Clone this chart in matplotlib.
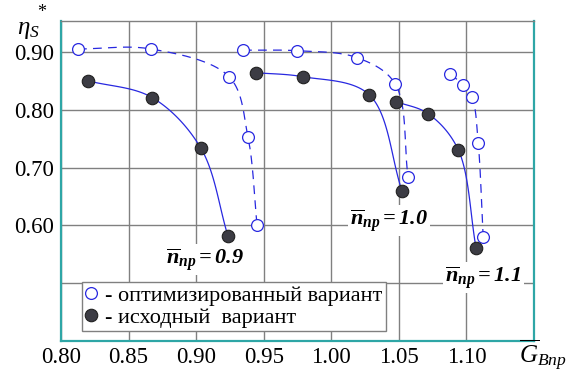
import numpy as np
import matplotlib
matplotlib.use("Agg")
import matplotlib.pyplot as plt
from matplotlib.lines import Line2D

plt.rcParams['font.family'] = ['Liberation Serif', 'DejaVu Serif']
plt.rcParams['mathtext.fontset'] = 'custom'
plt.rcParams['mathtext.rm'] = 'Liberation Serif'
plt.rcParams['mathtext.it'] = 'Liberation Serif:italic'
plt.rcParams['mathtext.bf'] = 'Liberation Serif:italic:bold'

# optimized variant (open circles), per relative speed
opt_09_x = [0.8126, 0.8666, 0.9244, 0.9384, 0.9451]
opt_09_y = [0.905, 0.905, 0.857, 0.752, 0.600]
opt_10_x = [0.9347, 0.9747, 1.0191, 1.0472, 1.0568]
opt_10_y = [0.903, 0.902, 0.890, 0.845, 0.684]
opt_11_x = [1.0879, 1.0976, 1.1042, 1.1087, 1.1124]
opt_11_y = [0.862, 0.843, 0.822, 0.743, 0.579]

# initial variant (filled circles)
ini_09_x = [0.820, 0.8674, 0.9036, 0.9236]
ini_09_y = [0.850, 0.821, 0.733, 0.581]
ini_10_x = [0.9443, 0.9791, 1.028, 1.0524]
ini_10_y = [0.864, 0.857, 0.826, 0.659]
ini_11_x = [1.048, 1.0717, 1.0939, 1.1072]
ini_11_y = [0.814, 0.793, 0.731, 0.560]

xticks = [0.80, 0.85, 0.90, 0.95, 1.00, 1.05, 1.10]
yticks = [0.60, 0.70, 0.80, 0.90]

blue = '#2828e0'
teal = '#2ea6a6'
grid = '#808080'


def smooth(xs, ys, n=40):
    # centripetal Catmull-Rom through the points (in pixel-like units)
    sx, sy = 1351.0, 580.0
    P = np.column_stack([np.array(xs) * sx, np.array(ys) * sy])
    P = np.vstack([2 * P[0] - P[1], P, 2 * P[-1] - P[-2]])
    out = []
    for i in range(1, len(P) - 2):
        p0, p1, p2, p3 = P[i - 1], P[i], P[i + 1], P[i + 2]
        t0 = 0.0
        t1 = t0 + np.linalg.norm(p1 - p0) ** 0.5
        t2 = t1 + np.linalg.norm(p2 - p1) ** 0.5
        t3 = t2 + np.linalg.norm(p3 - p2) ** 0.5
        t = np.linspace(t1, t2, n)[:, None]
        a1 = (t1 - t) / (t1 - t0) * p0 + (t - t0) / (t1 - t0) * p1
        a2 = (t2 - t) / (t2 - t1) * p1 + (t - t1) / (t2 - t1) * p2
        a3 = (t3 - t) / (t3 - t2) * p2 + (t - t2) / (t3 - t2) * p3
        b1 = (t2 - t) / (t2 - t0) * a1 + (t - t0) / (t2 - t0) * a2
        b2 = (t3 - t) / (t3 - t1) * a2 + (t - t1) / (t3 - t1) * a3
        c = (t2 - t) / (t2 - t1) * b1 + (t - t1) / (t2 - t1) * b2
        out.append(c)
    c = np.vstack(out)
    return c[:, 0] / sx, c[:, 1] / sy


fig = plt.figure(figsize=(5.68, 3.78), dpi=100)
ax = fig.add_axes([61 / 568, 37 / 378, 473 / 568, 320 / 378])

for xs, ys in [(opt_09_x, opt_09_y), (opt_10_x, opt_10_y), (opt_11_x, opt_11_y)]:
    sxs, sys_ = smooth(xs, ys)
    ax.plot(sxs, sys_, color=blue, lw=0.9, dashes=(7, 5), zorder=3)
    ax.plot(xs, ys, 'o', ms=8.5, mfc='white', mec=blue, mew=0.9, zorder=4)

for xs, ys in [(ini_09_x, ini_09_y), (ini_10_x, ini_10_y), (ini_11_x, ini_11_y)]:
    sxs, sys_ = smooth(xs, ys)
    ax.plot(sxs, sys_, color=blue, lw=0.9, zorder=3)
    ax.plot(xs, ys, 'o', ms=9, mfc='#3c3c44', mec='#202020', mew=0.8, zorder=4)

ax.set_xlim(0.80, 1.15)
ax.set_ylim(0.40, 0.9534)
ax.set_xticks(xticks)
ax.set_xticklabels([f"{v:.2f}" for v in xticks])
ax.set_yticks([0.50] + yticks)
ax.set_yticklabels([''] + [f"{v:.2f}" for v in yticks])
ax.tick_params(length=0, labelsize=16.5)
ax.tick_params(axis='y', pad=5)
ax.tick_params(axis='x', pad=4)
ax.grid(True, color=grid, lw=1.0)
ax.set_axisbelow(True)
for s in ['left', 'right', 'bottom']:
    ax.spines[s].set_color(teal)
    ax.spines[s].set_linewidth(1.6)
ax.spines['top'].set_color(grid)
ax.spines['top'].set_linewidth(1.0)

box = dict(facecolor='white', edgecolor='none', pad=1.5)
ax.text(0.8775, 0.533, r'$\mathbf{\overline{n}_{пр}=0.9}$', fontsize=16, bbox=box, zorder=5)
ax.text(1.0139, 0.600, r'$\mathbf{\overline{n}_{пр}=1.0}$', fontsize=16, bbox=box, zorder=5)
ax.text(1.0845, 0.502, r'$\mathbf{\overline{n}_{пр}=1.1}$', fontsize=16, bbox=box, zorder=5)

handles = [
    Line2D([], [], ls='none', marker='o', ms=8.5, mfc='white', mec=blue, mew=0.9),
    Line2D([], [], ls='none', marker='o', ms=9, mfc='#3c3c44', mec='#202020', mew=0.8),
]
leg = ax.legend(handles, ['- оптимизированный вариант', '- исходный  вариант'],
                loc='lower left', bbox_to_anchor=(0.044, 0.031), borderaxespad=0,
                fontsize=16, frameon=True, fancybox=False, framealpha=1,
                handlelength=0.55, handletextpad=0.35, borderpad=0.15,
                labelspacing=0.05)
leg.get_frame().set_edgecolor(grid)
leg.get_frame().set_linewidth(1.0)
leg.set_zorder(6)

# axis labels
fig.text(17 / 568, 1 - 34 / 378, r'$\eta_S$', fontsize=18)
fig.text(37 / 568, 1 - 17 / 378, '*', fontsize=13)
fig.text(519 / 568, 1 - 363 / 378, r'$\overline{G}_{Впр}$', fontsize=18)

fig.savefig('out.png', dpi=100)
